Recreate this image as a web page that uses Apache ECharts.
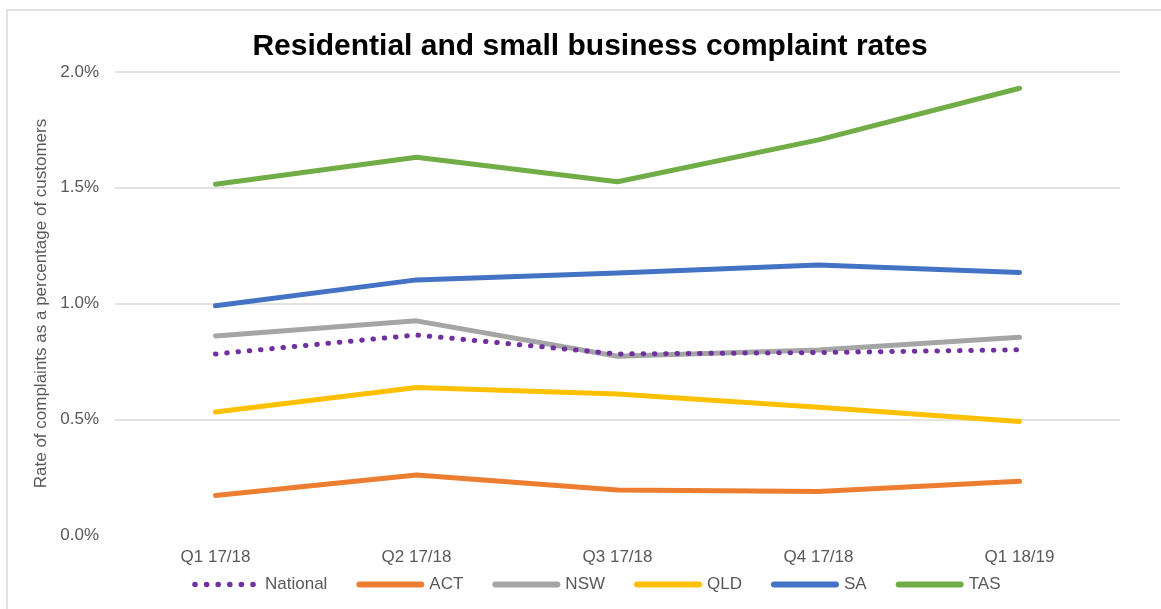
<!DOCTYPE html>
<html>
<head>
<meta charset="utf-8">
<script src="https://cdn.jsdelivr.net/npm/echarts@6/dist/echarts.min.js"></script>
<style>
html,body{margin:0;padding:0;background:#fff;}
#c{width:1161px;height:609px;}
</style>
</head>
<body>
<div id="c"></div>
<script>
const categories = ['Q1 17/18', 'Q2 17/18', 'Q3 17/18', 'Q4 17/18', 'Q1 18/19'];
const national = [0.782, 0.864, 0.782, 0.788, 0.800];
const act = [0.171, 0.259, 0.194, 0.188, 0.232];
const nsw = [0.860, 0.925, 0.772, 0.799, 0.854];
const qld = [0.531, 0.637, 0.609, 0.552, 0.490];
const sa = [0.990, 1.102, 1.132, 1.166, 1.134];
const tas = [1.515, 1.632, 1.526, 1.707, 1.930];
const yTicks = [0, 0.5, 1.0, 1.5, 2.0];
const seriesNames = ['National', 'ACT', 'NSW', 'QLD', 'SA', 'TAS'];
const seriesColors = ['#7030A0', '#ED7D31', '#A5A5A5', '#FFC000', '#4472C4', '#70AD47'];

const FONT = '"Liberation Sans", Arial, sans-serif';
const TXT = '#595959';

function lineSeries(name, data, color, dotted) {
  return {
    name: name,
    type: 'line',
    data: data,
    symbol: 'none',
    showSymbol: false,
    smooth: false,
    z: dotted ? 3 : 2,
    lineStyle: dotted
      ? { color: color, width: 5, type: [0.5, 10.8], cap: 'round' }
      : { color: color, width: 5, cap: 'round', join: 'round' },
    itemStyle: { color: color },
    emphasis: { disabled: true }
  };
}

// legend icons (68 x 7 box)
function dotsPath() {
  let p = 'path://M0,0 L0,0 ';
  const r = 2.8;
  for (let i = 0; i < 6; i++) {
    const cx = 3 + i * 11.6;
    p += 'M' + (cx - r) + ',3.5 a' + r + ',' + r + ' 0 1,0 ' + (2 * r) + ',0 a' + r + ',' + r + ' 0 1,0 ' + (-2 * r) + ',0 Z ';
  }
  p += 'M68,7 L68,7';
  return p;
}
const barPath = 'path://M3.5,0.5 L64.5,0.5 A3,3 0 0,1 64.5,6.5 L3.5,6.5 A3,3 0 0,1 3.5,0.5 Z';

const legendData = seriesNames.map((n, i) => ({
  name: n,
  icon: i === 0 ? dotsPath() : barPath,
  itemStyle: { color: seriesColors[i], borderWidth: 0 }
}));

const chart = echarts.init(document.getElementById('c'), null, { renderer: 'canvas' });
chart.setOption({
  animation: false,
  backgroundColor: '#fff',
  textStyle: { fontFamily: FONT },
  graphic: [{
    type: 'rect',
    shape: { x: 7, y: 10, width: 1200, height: 700 },
    style: { fill: 'none', stroke: '#d9d9d9', lineWidth: 1.5 },
    silent: true
  }],
  title: {
    text: 'Residential and small business complaint rates',
    left: 585,
    textAlign: 'center',
    top: 27,
    textStyle: { fontFamily: FONT, fontSize: 30, fontWeight: 'bold', color: '#000' }
  },
  grid: { left: 115, right: 41, top: 72, bottom: 74, containLabel: false },
  legend: {
    left: 187,
    top: 571,
    itemWidth: 68,
    itemHeight: 7,
    itemGap: 29,
    textStyle: { fontFamily: FONT, fontSize: 17, color: TXT },
    data: legendData
  },
  xAxis: {
    type: 'category',
    data: categories,
    boundaryGap: true,
    axisLine: { show: false },
    axisTick: { show: false },
    axisLabel: { fontFamily: FONT, fontSize: 17, color: TXT, margin: 14 }
  },
  yAxis: {
    type: 'value',
    min: yTicks[0],
    max: yTicks[yTicks.length - 1],
    interval: yTicks[1] - yTicks[0],
    name: 'Rate of complaints as a percentage of customers',
    nameLocation: 'middle',
    nameGap: 62,
    nameTextStyle: { fontFamily: FONT, fontSize: 17, color: TXT },
    axisLine: { show: false },
    axisTick: { show: false },
    axisLabel: {
      fontFamily: FONT, fontSize: 17, color: TXT, margin: 16,
      formatter: v => v.toFixed(1) + '%'
    },
    splitLine: { lineStyle: { color: ['rgba(0,0,0,0)', '#d9d9d9', '#d9d9d9', '#d9d9d9', '#d9d9d9'], width: 1.5 } }
  },
  series: seriesNames.map((n, i) =>
    lineSeries(n, [national, act, nsw, qld, sa, tas][i], seriesColors[i], i === 0))
});
</script>
</body>
</html>
